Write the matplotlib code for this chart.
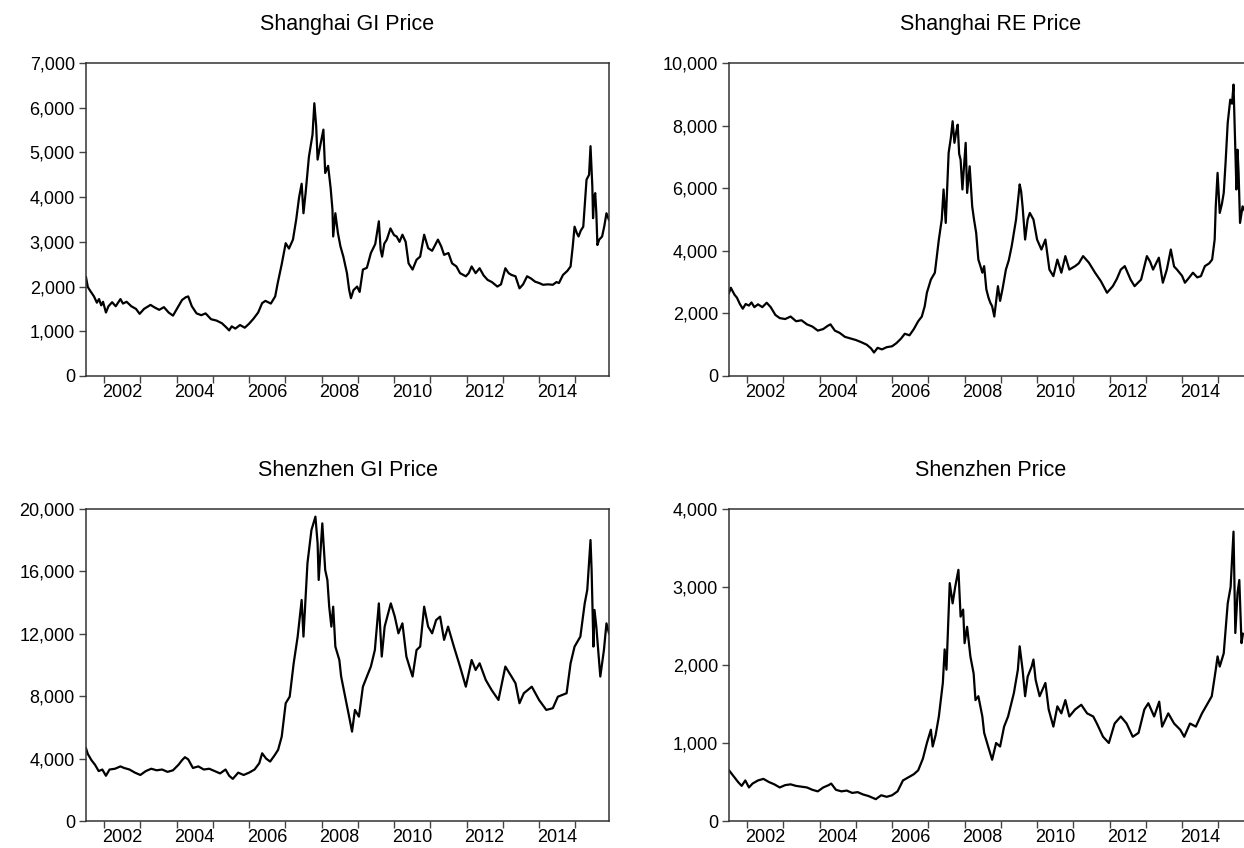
import matplotlib
matplotlib.use("Agg")
import matplotlib.pyplot as plt
import matplotlib.ticker as ticker

plt.rcParams['font.family'] = ['Liberation Sans', 'DejaVu Sans']

# time in fractional years
sh_gi_t = [2001.50, 2001.55, 2001.62, 2001.72, 2001.80, 2001.86, 2001.92, 2001.97, 2002.05, 2002.12,
           2002.22, 2002.32, 2002.45, 2002.52, 2002.62, 2002.75, 2002.88, 2002.98, 2003.10, 2003.28,
           2003.40, 2003.52, 2003.65, 2003.78, 2003.90, 2004.02, 2004.15, 2004.25, 2004.32, 2004.42,
           2004.55, 2004.68, 2004.80, 2004.95, 2005.10, 2005.25, 2005.38, 2005.45, 2005.52, 2005.62,
           2005.75, 2005.88, 2006.00, 2006.12, 2006.25, 2006.36, 2006.45, 2006.60, 2006.72, 2006.79,
           2006.90, 2007.01, 2007.10, 2007.21, 2007.30, 2007.38, 2007.45, 2007.50, 2007.56, 2007.65,
           2007.75, 2007.80, 2007.85, 2007.89, 2007.95, 2008.05, 2008.10, 2008.18, 2008.25, 2008.30,
           2008.32, 2008.38, 2008.45, 2008.52, 2008.60, 2008.70, 2008.76, 2008.81, 2008.88, 2008.98,
           2009.05, 2009.14, 2009.25, 2009.36, 2009.48, 2009.58, 2009.63, 2009.67, 2009.73, 2009.80,
           2009.90, 2010.00, 2010.07, 2010.15, 2010.23, 2010.32, 2010.40, 2010.51, 2010.62, 2010.72,
           2010.83, 2010.94, 2011.05, 2011.21, 2011.30, 2011.38, 2011.50, 2011.60, 2011.72, 2011.82,
           2011.98, 2012.06, 2012.14, 2012.25, 2012.36, 2012.47, 2012.58, 2012.70, 2012.85, 2012.95,
           2013.07, 2013.16, 2013.24, 2013.35, 2013.46, 2013.56, 2013.67, 2013.78, 2013.89, 2014.00,
           2014.11, 2014.25, 2014.38, 2014.48, 2014.55, 2014.66, 2014.78, 2014.87, 2014.93, 2014.98,
           2015.04, 2015.09, 2015.15, 2015.22, 2015.31, 2015.38, 2015.42, 2015.45, 2015.47, 2015.49,
           2015.52, 2015.55, 2015.58, 2015.61, 2015.66, 2015.74, 2015.80, 2015.86, 2015.93]
sh_gi_v = [2210, 1990, 1900, 1780, 1640, 1720, 1580, 1660, 1420, 1560,
           1650, 1560, 1720, 1620, 1660, 1560, 1500, 1390, 1500, 1590,
           1530, 1480, 1540, 1420, 1350, 1520, 1700, 1760, 1780, 1560,
           1400, 1360, 1400, 1270, 1240, 1180, 1080, 1020, 1110, 1060,
           1140, 1080, 1170, 1280, 1420, 1630, 1680, 1620, 1780, 2080,
           2500, 2970, 2850, 3050, 3500, 4000, 4300, 3640, 4100, 4900,
           5400, 6100, 5600, 4840, 5100, 5510, 4540, 4700, 4200, 3720,
           3120, 3640, 3200, 2900, 2670, 2300, 1930, 1740, 1920, 2000,
           1880, 2380, 2420, 2750, 2950, 3460, 2820, 2670, 2960, 3050,
           3300, 3150, 3120, 3000, 3160, 3000, 2520, 2380, 2600, 2670,
           3160, 2860, 2800, 3050, 2900, 2710, 2750, 2520, 2450, 2300,
           2230, 2300, 2450, 2300, 2410, 2250, 2150, 2100, 2000, 2050,
           2410, 2300, 2260, 2230, 1960, 2050, 2230, 2180, 2110, 2080,
           2040, 2050, 2040, 2100, 2080, 2260, 2350, 2450, 2900, 3340,
           3200, 3120, 3250, 3340, 4390, 4500, 5140, 4600, 4240, 3530,
           4000, 4090, 3650, 2930, 3050, 3120, 3350, 3640, 3490]

sh_re_t = [2001.50, 2001.55, 2001.65, 2001.72, 2001.80, 2001.88, 2001.96, 2002.05, 2002.12, 2002.20,
           2002.30, 2002.42, 2002.54, 2002.65, 2002.78, 2002.90, 2003.05, 2003.20, 2003.35, 2003.50,
           2003.65, 2003.80, 2003.95, 2004.10, 2004.22, 2004.30, 2004.42, 2004.55, 2004.70, 2004.85,
           2005.00, 2005.15, 2005.30, 2005.42, 2005.50, 2005.60, 2005.72, 2005.85, 2006.00, 2006.12,
           2006.25, 2006.35, 2006.48, 2006.60, 2006.72, 2006.82, 2006.90, 2006.96, 2007.07, 2007.18,
           2007.29, 2007.37, 2007.42, 2007.48, 2007.56, 2007.62, 2007.67, 2007.72, 2007.77, 2007.81,
           2007.85, 2007.89, 2007.94, 2008.03, 2008.07, 2008.14, 2008.21, 2008.26, 2008.32, 2008.38,
           2008.44, 2008.49, 2008.54, 2008.60, 2008.66, 2008.71, 2008.76, 2008.82, 2008.86, 2008.92,
           2008.98, 2009.05, 2009.14, 2009.22, 2009.30, 2009.42, 2009.52, 2009.56, 2009.60, 2009.67,
           2009.74, 2009.80, 2009.90, 2010.00, 2010.12, 2010.23, 2010.34, 2010.45, 2010.56, 2010.67,
           2010.78, 2010.89, 2011.05, 2011.15, 2011.27, 2011.43, 2011.60, 2011.76, 2011.93, 2012.09,
           2012.20, 2012.31, 2012.42, 2012.58, 2012.69, 2012.87, 2013.03, 2013.12, 2013.20, 2013.36,
           2013.47, 2013.58, 2013.69, 2013.78, 2013.86, 2014.00, 2014.08, 2014.20, 2014.30, 2014.42,
           2014.52, 2014.63, 2014.75, 2014.83, 2014.90, 2014.93, 2014.98, 2015.04, 2015.10, 2015.15,
           2015.20, 2015.26, 2015.33, 2015.38, 2015.42, 2015.45, 2015.47, 2015.50, 2015.53, 2015.56,
           2015.60, 2015.67, 2015.72]
sh_re_v = [2650, 2820, 2600, 2500, 2300, 2150, 2300, 2250, 2350, 2200,
           2290, 2200, 2340, 2200, 1950, 1850, 1820, 1900, 1750, 1780,
           1650, 1580, 1450, 1500, 1600, 1650, 1450, 1380, 1250, 1200,
           1150, 1080, 1000, 880, 750, 900, 850, 920, 950, 1050,
           1200, 1350, 1300, 1500, 1750, 1900, 2230, 2660, 3080, 3300,
           4360, 5000, 5960, 4890, 7130, 7600, 8140, 7450, 7800, 8030,
           7100, 6910, 5960, 7450, 5850, 6700, 5420, 5000, 4570, 3720,
           3500, 3300, 3510, 2770, 2500, 2340, 2230, 1900, 2300, 2870,
           2400, 2800, 3400, 3700, 4150, 5000, 6120, 5900, 5420, 4360,
           5000, 5210, 5000, 4360, 4040, 4360, 3400, 3190, 3720, 3300,
           3830, 3400, 3510, 3600, 3830, 3620, 3300, 3030, 2660, 2870,
           3100, 3400, 3510, 3080, 2870, 3080, 3830, 3650, 3400, 3780,
           2980, 3400, 4040, 3500, 3400, 3200, 2980, 3150, 3300, 3150,
           3190, 3510, 3600, 3720, 4360, 5420, 6490, 5210, 5500, 5850,
           6800, 8090, 8830, 8700, 9310, 8000, 7230, 5960, 7230, 6500,
           4890, 5420, 5300]

sz_gi_t = [2001.50, 2001.55, 2001.65, 2001.75, 2001.85, 2001.95, 2002.05, 2002.15, 2002.30, 2002.45,
           2002.55, 2002.70, 2002.85, 2003.00, 2003.15, 2003.30, 2003.45, 2003.60, 2003.75, 2003.90,
           2004.05, 2004.15, 2004.23, 2004.32, 2004.45, 2004.60, 2004.75, 2004.90, 2005.05, 2005.20,
           2005.35, 2005.45, 2005.55, 2005.70, 2005.85, 2006.00, 2006.15, 2006.28, 2006.36, 2006.47,
           2006.58, 2006.70, 2006.80, 2006.90, 2007.01, 2007.12, 2007.23, 2007.34, 2007.45, 2007.50,
           2007.61, 2007.72, 2007.83, 2007.89, 2007.92, 2008.02, 2008.10, 2008.16, 2008.21, 2008.27,
           2008.32, 2008.38, 2008.49, 2008.54, 2008.65, 2008.76, 2008.84, 2008.92, 2009.03, 2009.14,
           2009.25, 2009.36, 2009.47, 2009.58, 2009.66, 2009.74, 2009.91, 2010.02, 2010.12, 2010.23,
           2010.34, 2010.45, 2010.51, 2010.62, 2010.72, 2010.83, 2010.94, 2011.05, 2011.16, 2011.27,
           2011.38, 2011.49, 2011.65, 2011.82, 2011.98, 2012.14, 2012.25, 2012.36, 2012.53, 2012.69,
           2012.88, 2013.07, 2013.24, 2013.35, 2013.46, 2013.58, 2013.80, 2014.00, 2014.20, 2014.38,
           2014.52, 2014.76, 2014.87, 2014.98, 2015.14, 2015.26, 2015.33, 2015.42, 2015.45, 2015.50,
           2015.53, 2015.58, 2015.69, 2015.79, 2015.86, 2015.93]
sz_gi_v = [4660, 4300, 3900, 3600, 3200, 3300, 2900, 3300, 3350, 3500,
           3400, 3300, 3100, 2950, 3200, 3350, 3250, 3300, 3150, 3250,
           3600, 3900, 4090, 3950, 3400, 3500, 3300, 3350, 3200, 3050,
           3300, 2900, 2700, 3100, 2950, 3100, 3300, 3700, 4340, 4000,
           3810, 4200, 4560, 5410, 7550, 7970, 10110, 11820, 14170, 11820,
           16520, 18650, 19510, 17800, 15450, 19080, 16090, 15450, 13740, 12460,
           13740, 11180, 10320, 9260, 7970, 6690, 5730, 7120, 6690, 8610,
           9260, 9900, 10960, 13950, 10540, 12460, 13950, 13100, 12030, 12670,
           10540, 9700, 9260, 10960, 11180, 13740, 12460, 12030, 12880, 13100,
           11610, 12460, 11180, 9900, 8610, 10320, 9680, 10110, 9040, 8400,
           7760, 9900, 9260, 8830, 7550, 8190, 8610, 7760, 7120, 7230,
           7970, 8190, 10110, 11180, 11820, 13950, 14810, 18010, 16090, 11180,
           13530, 12460, 9260, 10960, 12670, 12030]

sz_t = [2001.50, 2001.55, 2001.65, 2001.75, 2001.85, 2001.95, 2002.05, 2002.15, 2002.30, 2002.45,
        2002.60, 2002.75, 2002.90, 2003.05, 2003.20, 2003.35, 2003.50, 2003.65, 2003.80, 2003.95,
        2004.10, 2004.25, 2004.32, 2004.45, 2004.60, 2004.75, 2004.90, 2005.05, 2005.20, 2005.35,
        2005.45, 2005.55, 2005.70, 2005.85, 2006.00, 2006.15, 2006.30, 2006.45, 2006.60, 2006.72,
        2006.85, 2006.96, 2007.07, 2007.12, 2007.20, 2007.29, 2007.40, 2007.45, 2007.50, 2007.59,
        2007.67, 2007.74, 2007.83, 2007.89, 2007.96, 2008.00, 2008.07, 2008.16, 2008.25, 2008.30,
        2008.38, 2008.49, 2008.54, 2008.65, 2008.76, 2008.87, 2008.98, 2009.09, 2009.20, 2009.36,
        2009.47, 2009.52, 2009.60, 2009.67, 2009.74, 2009.85, 2009.90, 2009.96, 2010.07, 2010.23,
        2010.32, 2010.45, 2010.56, 2010.67, 2010.78, 2010.89, 2011.05, 2011.22, 2011.38, 2011.55,
        2011.65, 2011.82, 2011.98, 2012.14, 2012.31, 2012.47, 2012.64, 2012.80, 2012.96, 2013.07,
        2013.23, 2013.37, 2013.45, 2013.62, 2013.78, 2013.95, 2014.06, 2014.22, 2014.38, 2014.55,
        2014.71, 2014.82, 2014.93, 2014.98, 2015.04, 2015.15, 2015.26, 2015.34, 2015.42, 2015.47,
        2015.53, 2015.58, 2015.64, 2015.68]
sz_v = [650, 620, 560, 500, 450, 520, 430, 480, 520, 540,
        500, 470, 430, 460, 470, 450, 440, 430, 400, 380,
        430, 460, 480, 400, 380, 390, 360, 370, 340, 320,
        300, 280, 330, 310, 330, 380, 520, 560, 600, 650,
        800, 1000, 1170, 955, 1100, 1340, 1770, 2200, 1940, 3050,
        2790, 3000, 3220, 2620, 2710, 2280, 2490, 2110, 1890, 1550,
        1600, 1340, 1130, 955, 785, 1000, 955, 1210, 1340, 1640,
        1940, 2240, 1940, 1600, 1850, 1980, 2070, 1810, 1600, 1770,
        1430, 1210, 1470, 1380, 1550, 1340, 1430, 1490, 1380, 1340,
        1250, 1080, 1000, 1250, 1340, 1250, 1080, 1130, 1430, 1510,
        1340, 1530, 1210, 1380, 1250, 1170, 1080, 1250, 1210, 1380,
        1510, 1600, 1940, 2110, 1980, 2150, 2790, 3000, 3710, 2410,
        2920, 3090, 2280, 2400]

panels = [
    ("Shanghai GI Price", sh_gi_t, sh_gi_v, [0, 7000], [0, 1000, 2000, 3000, 4000, 5000, 6000, 7000]),
    ("Shanghai RE Price", sh_re_t, sh_re_v, [0, 10000], [0, 2000, 4000, 6000, 8000, 10000]),
    ("Shenzhen GI Price", sz_gi_t, sz_gi_v, [0, 20000], [0, 4000, 8000, 12000, 16000, 20000]),
    ("Shenzhen Price", sz_t, sz_v, [0, 4000], [0, 1000, 2000, 3000, 4000]),
]

W, H = 1244, 848
fig = plt.figure(figsize=(W / 100, H / 100), dpi=100)
# axes boxes in pixels: left, top, width, height
boxes = [(86, 63, 523, 313), (729, 63, 523, 313), (86, 509, 523, 312), (729, 509, 523, 312)]

year_starts = list(range(2002, 2016))
label_years = [2002, 2004, 2006, 2008, 2010, 2012, 2014]

for (title, t, v, ylim, yticks), (l, tp, w, h) in zip(panels, boxes):
    ax = fig.add_axes([l / W, 1 - (tp + h) / H, w / W, h / H])
    ax.plot(t, v, color='black', lw=1.6)
    ax.set_xlim(2001.5, 2015.93)
    ax.set_ylim(*ylim)
    ax.set_yticks(yticks)
    ax.yaxis.set_major_formatter(ticker.FuncFormatter(lambda x, p: f'{int(x):,}'))
    ax.set_xticks(year_starts)
    ax.set_xticklabels([])
    ax.set_xticks([y + 0.5 for y in label_years], minor=True)
    ax.set_xticklabels([str(y) for y in label_years], minor=True)
    ax.tick_params(axis='x', which='major', direction='out', length=5, width=1, color='#444444')
    ax.tick_params(axis='x', which='minor', length=0, pad=6, labelsize=13)
    ax.tick_params(axis='y', direction='out', length=5, width=1, color='#444444', labelsize=13, pad=3)
    for s in ax.spines.values():
        s.set_linewidth(1.1)
        s.set_color('#333333')
    ax.set_title(title, fontsize=15.5, pad=24)

fig.savefig('out.png', dpi=100)
